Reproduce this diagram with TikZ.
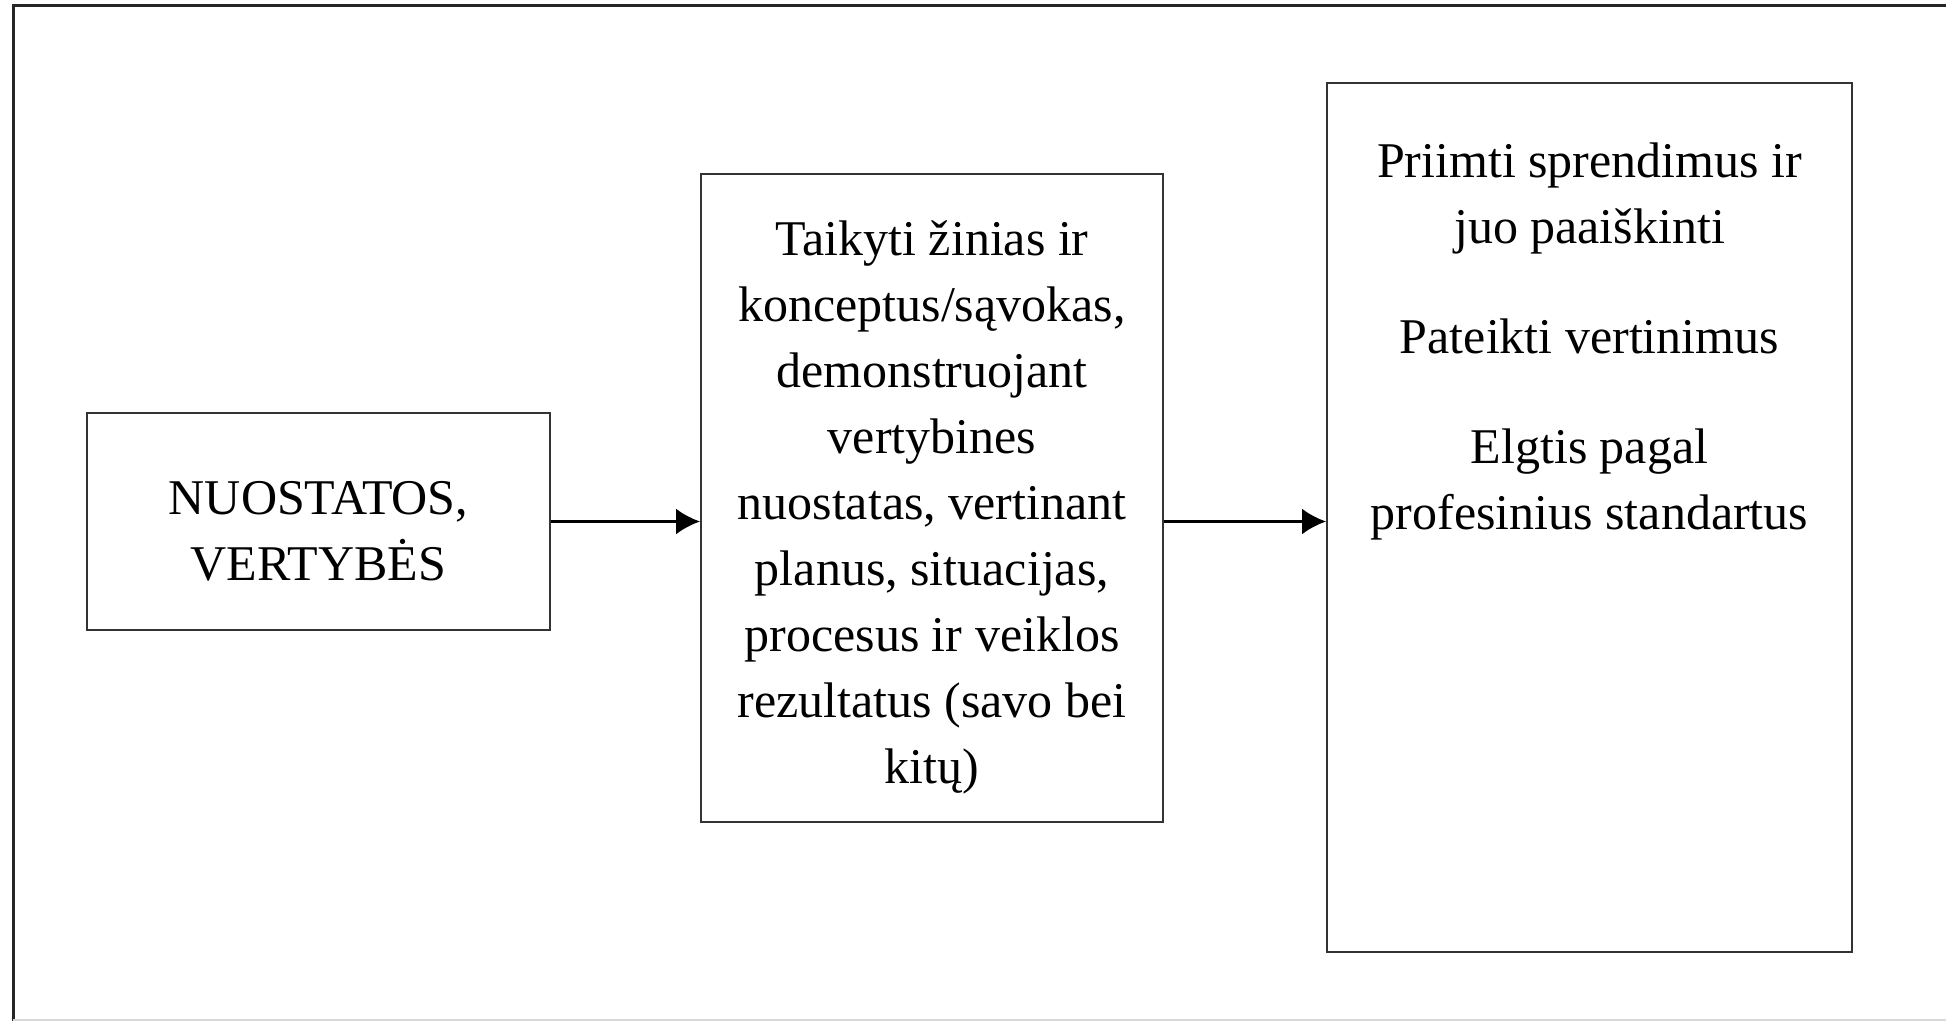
\documentclass[tikz,border=0pt]{standalone}
\usepackage{fontspec}
\setmainfont{Liberation Serif}
\usepackage{tikz}
\usetikzlibrary{arrows.meta}
\usetikzlibrary{positioning}

\begin{document}
\begin{tikzpicture}[
    x=0.5pt, y=-0.5pt,
    line width=1pt,
    font=\fontsize{25}{33}\selectfont,
    text=black,
    box/.style={
      rectangle,
      draw=black!80,
      inner sep=0pt
    },
    plaintext/.style={align=center, inner sep=0pt},
    arrow/.style={-{Latex[length=12pt,width=13pt]}, line width=1.4pt}
]
  \useasboundingbox (0,0) rectangle (1946,1021);

  % page frame
  \draw[line width=1.5pt, black!85] (1946,6) -- (13,6) -- (13,1021);
  \draw[black!15] (13,1020) -- (1946,1020);

  \node[box, minimum width=231.5pt, minimum height=108.5pt] (values) at (318.5,521.5) {};
  \node[plaintext, yshift=-5pt] (valuestext) at (values.center) {
    NUOSTATOS,
    \\ VERTYBĖS
  };

  \node[box, minimum width=231pt, minimum height=324pt] (apply) at (932,498) {};
  \node[plaintext, yshift=-4.5pt] (applytext) at (apply.center) {
    Taikyti žinias ir
    \\ konceptus/sąvokas,
    \\ demonstruojant
    \\ vertybines
    \\ nuostatas, vertinant
    \\ planus, situacijas,
    \\ procesus ir veiklos
    \\ rezultatus (savo bei
    \\ kitų)
  };

  \node[box, minimum width=262.5pt, minimum height=434.5pt] (decide) at (1589.5,517.5) {};
  \node[plaintext, below=30pt of decide.north] (decidetext) {
    Priimti sprendimus ir
    \\ juo paaiškinti
    \\[22pt] Pateikti vertinimus
    \\[22pt] Elgtis pagal
    \\ profesinius standartus
  };

  \draw[arrow] (values.east) -- (values.east -| apply.west);
  \draw[arrow] (values.east -| apply.east) -- (values.east -| decide.west);

\end{tikzpicture}
\end{document}
